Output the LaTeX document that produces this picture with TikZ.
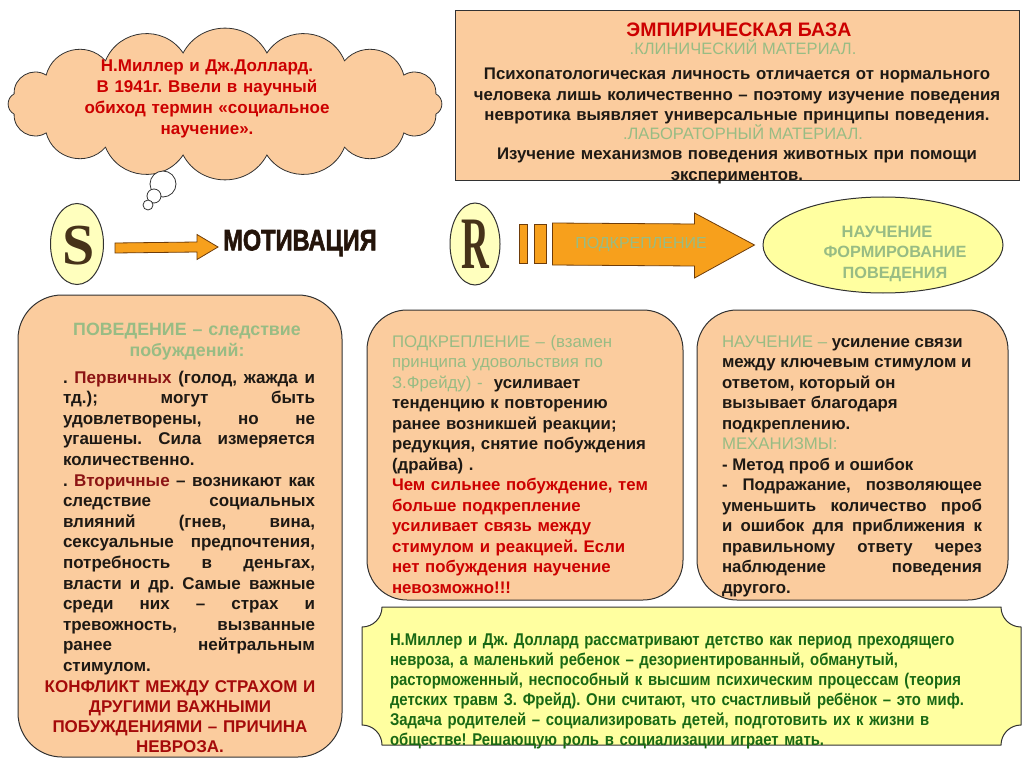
\documentclass[tikz,border=0pt]{standalone}
\usepackage{fontspec}
\setmainfont{Liberation Sans}
\newfontfamily\serifLetter{Liberation Serif}
\newfontfamily\narrowf{Liberation Sans}[FakeStretch=0.875]
\newfontfamily\heavyf{Liberation Sans Bold}[FakeBold=2.2]
\usetikzlibrary{shapes.geometric,calc}
\definecolor{peach}{RGB}{251,204,158}
\definecolor{ybox}{RGB}{255,255,160}
\definecolor{yell}{RGB}{255,255,190}
\definecolor{lgreen}{RGB}{152,188,132}
\definecolor{dgreen}{RGB}{25,105,20}
\definecolor{tred}{RGB}{204,0,0}
\definecolor{dred}{RGB}{140,20,20}
\definecolor{cred}{RGB}{165,10,10}
\definecolor{orng}{RGB}{247,160,28}
\definecolor{orbd}{RGB}{110,60,10}
\definecolor{bord}{RGB}{50,50,50}
\definecolor{txt}{RGB}{30,25,20}
\definecolor{letter}{RGB}{70,50,25}
\definecolor{motc}{RGB}{36,20,10}
\newcommand\myfnt{\fontsize{16.8}{20.5}\selectfont}
\newcommand\justsetup{\hyphenpenalty=10000 \tolerance=10000 \spaceskip=0.28em plus 3em minus 0.1em\relax}
\tikzset{
  panel/.style={draw=bord, line width=1pt, fill=peach},
  para/.style={inner sep=0pt, outer sep=0pt, font=\myfnt, text=txt},
  oval/.style={ellipse, draw=bord, line width=1pt, inner sep=0pt},
  blockarrow/.style={draw=orbd, line width=0.8pt, fill=orng},
  bubble/.style={draw=bord, line width=0.8pt, fill=white, circle, inner sep=0pt},
  puff/.style={bend left=62, looseness=1.15},
}
\begin{document}
\frenchspacing
\begin{tikzpicture}[x=1pt,y=-1pt]
\useasboundingbox (0,0) rectangle (1024,767);
\fill[white] (0,0) rectangle (1024,767);

% ---------- cloud ----------
\coordinate (k0) at (435.9,114.1);
\coordinate (k1) at (403.8,132.9);
\coordinate (k2) at (344.5,147.2);
\coordinate (k3) at (266.9,155.0);
\coordinate (k4) at (183.1,155.0);
\coordinate (k5) at (105.5,147.2);
\coordinate (k6) at (46.2,132.9);
\coordinate (k7) at (14.1,114.1);
\coordinate (k8) at (14.1,93.9);
\coordinate (k9) at (46.2,75.1);
\coordinate (k10) at (105.5,60.8);
\coordinate (k11) at (183.1,53.0);
\coordinate (k12) at (266.9,53.0);
\coordinate (k13) at (344.5,60.8);
\coordinate (k14) at (403.8,75.1);
\coordinate (k15) at (435.9,93.9);
\draw[draw=bord, line width=0.8pt, fill=peach]
  (k0) to[puff] (k1) to[puff] (k2) to[puff] (k3) to[puff] (k4) to[puff] (k5) to[puff] (k6) to[puff] (k7)
  to[puff] (k8) to[puff] (k9) to[puff] (k10) to[puff] (k11) to[puff] (k12) to[puff] (k13) to[puff] (k14)
  to[puff] (k15) to[puff] (k0) -- cycle;
\node[bubble, minimum size=26] (b1) at (163,184) {};
\node[bubble, minimum size=14] (b2) at (154,196) {};
\node[bubble, minimum size=10] (b3) at (148,205) {};
\node[para, anchor=base, text width=340, align=center, text=tred, font=\fontsize{17}{20.8}\selectfont\bfseries] (cloudtxt) at (207,72)
 {Н.Миллер и Дж.Доллард.\\ В 1941г. Ввели в научный\\ обиход термин «социальное\\ научение».};

% ---------- top right box ----------
\node[panel, rectangle, anchor=north west, minimum width=564, minimum height=170, inner sep=0pt] (emp) at (455,10) {};
\node[para, anchor=base, text=tred, font=\fontsize{19.5}{22}\selectfont\bfseries] (empt) at (739,37) {ЭМПИРИЧЕСКАЯ БАЗА};
\node[para, anchor=base, text=lgreen, font=\fontsize{16.5}{20}\selectfont] (clin) at (743,55) {.КЛИНИЧЕСКИЙ МАТЕРИАЛ.};
\node[para, anchor=base, text width=560, align=center, font=\myfnt\bfseries] (clintxt) at (737,80)
 {Психопатологическая личность отличается от нормального\\ человека лишь количественно – поэтому изучение поведения\\ невротика выявляет универсальные принципы поведения.};
\node[para, anchor=base, text=lgreen, font=\fontsize{16.5}{20}\selectfont] (lab) at (743,140) {.ЛАБОРАТОРНЫЙ МАТЕРИАЛ.};
\node[para, anchor=base, text width=560, align=center, font=\myfnt\bfseries] (labtxt) at (737,160)
 {Изучение механизмов поведения животных при помощи\\ экспериментов.};

% ---------- S -> motivation ----------
\node[oval, fill=yell, minimum width=53, minimum height=81] (S) at (77,244) {};
\node[text=letter, inner sep=0pt] (Sl) at ($(S.center)+(2,2)$) {\serifLetter\fontsize{58}{58}\selectfont\bfseries S};
\node[inner sep=0pt, anchor=west, text=motc] (mot) at (223,243) {\scalebox{0.8}[1]{\heavyf\fontsize{29.5}{30}\selectfont МОТИВАЦИЯ}};
\coordinate (a0) at ($(S.east)+(11,4)$);
\coordinate (a1) at ($(mot.west)+(-5,4)$);
\draw[blockarrow] ($(a0)+(0,-5)$) -- ($(a1)+(-21,-5)$) -- ($(a1)+(-21,-12.5)$) -- (a1)
  -- ($(a1)+(-21,12.5)$) -- ($(a1)+(-21,5)$) -- ($(a0)+(0,5)$) -- cycle;

% ---------- R -> learning ----------
\node[oval, fill=yell, minimum width=50, minimum height=82] (R) at (475,244) {};
\node[text=letter, inner sep=0pt] (Rl) at (R.center) {\scalebox{0.52}[1]{\serifLetter\fontsize{74}{74}\selectfont\bfseries R}};
\node[oval, fill=ybox, minimum width=240, minimum height=96] (learn) at (883,245) {};
\node[para, anchor=base, text width=220, align=center, text=lgreen, font=\fontsize{16.3}{20.5}\selectfont\bfseries] (learntxt) at (895,258)
 {ФОРМИРОВАНИЕ\\ ПОВЕДЕНИЯ};
\node[para, anchor=base, text=lgreen, font=\fontsize{16.5}{20}\selectfont\bfseries] (learnt) at (887,237) {НАУЧЕНИЕ};
\coordinate (r0) at ($(R.east)+(19,0)$);
\coordinate (r1) at ($(learn.west)+(-8,0)$);
\draw[blockarrow] ($(r0)+(0,-20)$) rectangle ($(r0)+(8,19)$);
\draw[blockarrow] ($(r0)+(15,-20)$) rectangle ($(r0)+(27,19)$);
\draw[blockarrow] ($(r0)+(33,-21)$) -- ($(r1)+(-60,-21)$) -- ($(r1)+(-60,-32)$) -- (r1)
  -- ($(r1)+(-60,33)$) -- ($(r1)+(-60,21)$) -- ($(r0)+(33,21)$) -- cycle;
\node[text=lgreen, font=\fontsize{16}{18}\selectfont, inner sep=0pt] (podk) at (641,245) {ПОДКРЕПЛЕНИЕ};

% ---------- left panel ----------
\draw[panel, rounded corners=44] (18,295) rectangle (342,757);
\node[para, anchor=base, text width=300, align=center, text=lgreen, font=\fontsize{17.8}{21}\selectfont\bfseries] (lhead) at (187,335)
 {ПОВЕДЕНИЕ – следствие\\ побуждений:};
\node[para, anchor=base west, text width=252, align=justify, font=\fontsize{17}{20.6}\selectfont\bfseries] (lbody) at (63,383)
 {\justsetup
 .\ \textcolor{dred}{Первичных} (голод, жажда и\linebreak тд.); могут быть\linebreak удовлетворены, но не\linebreak угашены. Сила измеряется\linebreak количественно.\par
 . \textcolor{dred}{Вторичные} – возникают как\linebreak следствие социальных\linebreak влияний (гнев, вина,\linebreak сексуальные предпочтения,\linebreak потребность в деньгах,\linebreak власти и др. Самые важные\linebreak среди них – страх и\linebreak тревожность, вызванные\linebreak ранее нейтральным\linebreak стимулом.};
\node[para, anchor=base, text width=320, align=center, text=cred, font=\fontsize{17}{20}\selectfont\bfseries] (conf) at (180,692)
 {КОНФЛИКТ МЕЖДУ СТРАХОМ И\\ ДРУГИМИ ВАЖНЫМИ\\ ПОБУЖДЕНИЯМИ – ПРИЧИНА\\ НЕВРОЗА.};

% ---------- middle panel ----------
\draw[panel, rounded corners=40] (367,310) rectangle (683,600);
\node[para, anchor=base west, text width=290, align=left] (mbody) at (392,347)
 {\textcolor{lgreen}{ПОДКРЕПЛЕНИЕ – (взамен\\ принципа удовольствия по\\ З.Фрейду) -}\ \ \textbf{усиливает}\\
 \textbf{тенденцию к повторению}\\ \textbf{ранее возникшей реакции;}\\ \textbf{редукция, снятие побуждения}\\ \textbf{(драйва) .}\\
 \textcolor{tred}{\textbf{Чем сильнее побуждение, тем}}\\ \textcolor{tred}{\textbf{больше подкрепление}}\\
 \textcolor{tred}{\textbf{усиливает связь между}}\\ \textcolor{tred}{\textbf{стимулом и реакцией. Если}}\\
 \textcolor{tred}{\textbf{нет побуждения научение}}\\ \textcolor{tred}{\textbf{невозможно!!!}}};

% ---------- right panel ----------
\draw[panel, rounded corners=40] (697,310) rectangle (1008,600);
\node[para, anchor=base west, text width=260, align=justify, font=\myfnt\bfseries] (rbody) at (722,347)
 {\justsetup
 \textcolor{lgreen}{\mdseries НАУЧЕНИЕ – }усиление связи\\ между ключевым стимулом и\\ ответом, который он\\ вызывает благодаря\\ подкреплению.\\
 \textcolor{lgreen}{\mdseries МЕХАНИЗМЫ:}\\ - Метод проб и ошибок\\
 - Подражание, позволяющее\linebreak уменьшить количество проб\linebreak и ошибок для приближения к\linebreak правильному ответу через\linebreak наблюдение поведения\linebreak другого.};

% ---------- bottom plaque ----------
\draw[draw=bord, line width=1pt, fill=ybox]
  (382,607) -- (1001,607) arc[start angle=180, end angle=90, radius=20]
  -- (1021,725) arc[start angle=270, end angle=180, radius=20]
  -- (382,745) arc[start angle=0, end angle=-90, radius=20]
  -- (362,627) arc[start angle=90, end angle=0, radius=20] -- cycle;
\node[para, anchor=base west, text width=640, align=left, text=dgreen, font=\narrowf\fontsize{17}{20}\selectfont\bfseries] (btxt) at (390,645)
 {Н.Миллер и Дж. Доллард рассматривают детство как период преходящего\\
 невроза, а маленький ребенок – дезориентированный, обманутый,\\
 расторможенный, неспособный к высшим психическим процессам (теория\\
 детских травм З. Фрейд). Они считают, что счастливый ребёнок – это миф.\\
 Задача родителей – социализировать детей, подготовить их к жизни в\\
 обществе! Решающую роль в социализации играет мать.};
\end{tikzpicture}
\end{document}
